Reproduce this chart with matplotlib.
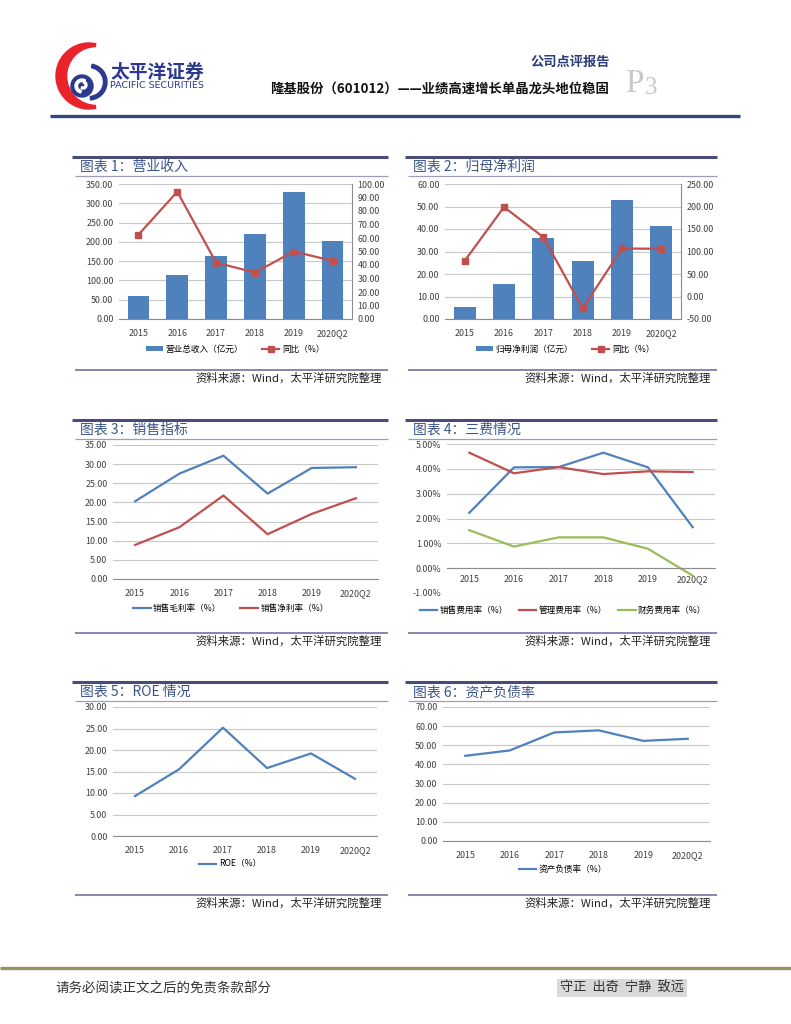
import matplotlib
matplotlib.use("Agg")
import matplotlib.pyplot as plt
from matplotlib.lines import Line2D
from matplotlib.patches import Circle, Wedge
from matplotlib.ticker import FuncFormatter

plt.rcParams["font.family"] = ["Noto Sans CJK SC", "DejaVu Sans"]
plt.rcParams["axes.unicode_minus"] = False

W, H = 791, 1024

years = ["2015", "2016", "2017", "2018", "2019", "2020Q2"]

revenue = [59.8, 114.4, 163.8, 221.0, 329.0, 202.8]
revenue_yoy = [62.4, 94.3, 41.8, 34.4, 50.0, 43.1]

net_profit = [5.35, 15.6, 36.0, 25.9, 52.9, 41.3]
net_profit_yoy = [79.2, 198.7, 132.0, -26.2, 106.7, 106.0]

gross_margin = [20.3, 27.5, 32.2, 22.3, 29.0, 29.2]
net_margin = [8.9, 13.5, 21.8, 11.7, 17.0, 21.1]

selling_rate = [2.23, 4.06, 4.07, 4.65, 4.06, 1.65]
admin_rate = [4.65, 3.82, 4.07, 3.79, 3.90, 3.87]
finance_rate = [1.53, 0.87, 1.24, 1.24, 0.78, -0.30]

roe = [9.28, 15.5, 25.2, 15.8, 19.2, 13.3]
debt_ratio = [44.5, 47.3, 56.7, 57.8, 52.3, 53.4]

BLUE = "#4F81BD"
RED = "#C0504D"
GREEN = "#9BBB59"
GRID = "#C8C8C8"
TICK = "#404040"
TITLE = "#3B5488"
TS = 6.4  # tick label size

fig = plt.figure(figsize=(W / 100, H / 100), dpi=100)


def box(x0, y0, x1, y1):
    return [x0 / W, 1 - y1 / H, (x1 - x0) / W, (y1 - y0) / H]


def ftext(x, y, s, **kw):
    kw.setdefault("va", "center")
    return fig.text(x / W, 1 - y / H, s, **kw)


def hline(x0, x1, y, color, lw):
    fig.add_artist(Line2D([x0 / W, x1 / W], [1 - y / H, 1 - y / H],
                          color=color, lw=lw, solid_capstyle="butt"))


def fmt2(v, pos):
    return f"{v:.2f}"


def style_axes(ax, ymin, ymax, step):
    ax.set_xlim(-0.5, len(years) - 0.5)
    ax.set_ylim(ymin, ymax)
    ticks = []
    v = ymin
    while v <= ymax + 1e-9:
        ticks.append(v)
        v += step
    ax.set_yticks(ticks)
    ax.yaxis.set_major_formatter(FuncFormatter(fmt2))
    ax.set_xticks(range(len(years)))
    ax.set_xticklabels(years)
    ax.grid(axis="y", color=GRID, lw=0.8)
    ax.set_axisbelow(True)
    for s in ["top", "left", "right"]:
        ax.spines[s].set_visible(False)
    ax.spines["bottom"].set_color("#8C8C8C")
    ax.tick_params(axis="both", length=0, labelsize=TS, colors=TICK, pad=4)
    ax.tick_params(axis="x", pad=7)
    ax.set_facecolor("none")


def right_axis(ax, ymin, ymax, step):
    r = ax.twinx()
    r.set_ylim(ymin, ymax)
    r.set_yticks(range(ymin, ymax + 1, step))
    r.yaxis.set_major_formatter(FuncFormatter(fmt2))
    r.tick_params(length=0, labelsize=TS, colors=TICK, pad=4)
    for s in ["top", "left", "bottom"]:
        r.spines[s].set_visible(False)
    r.spines["right"].set_color("#8C8C8C")
    return r


def panel(x0, x1, top, title):
    hline(x0, x1, top, "#4B4B7B", 2.2)
    ftext(x0 + 8, top + 10, title, fontsize=10, color=TITLE)
    hline(x0 + 3, x1, top + 19, "#9C9CC0", 0.9)
    hline(x0 + 3, x1, top + 213, "#7C7CA8", 1.3)
    ftext(x1 - 6, top + 221, "资料来源：Wind，太平洋研究院整理",
          fontsize=8.2, color="#222222", ha="right")


def add_legend(ax, handles, labels, cx, cy, ncol, colsp=1.8):
    ax.legend(handles, labels, loc="center", bbox_to_anchor=(cx / W, 1 - cy / H),
              bbox_transform=fig.transFigure, ncol=ncol, frameon=False,
              fontsize=6.2, handlelength=2.0, columnspacing=colsp, handletextpad=0.3,
              handleheight=0.6)


# ---------- header ----------
logo = fig.add_axes(box(50, 38, 120, 114))
logo.set_xlim(50, 120)
logo.set_ylim(114, 38)
logo.set_aspect("equal")
logo.axis("off")
logo.add_patch(Wedge((89, 76), 33, 78, 282, color="#E8232A"))
logo.add_patch(Circle((96, 76), 28, color="white"))
logo.add_patch(Wedge((89, 82), 18, -80, 85, width=3.5, color="#2B3990"))
logo.add_patch(Circle((82, 86), 11, color="#2B3990"))
logo.add_patch(Wedge((82, 86), 7, 100, 300, width=2.5, color="white"))
logo.add_patch(Wedge((83, 85), 4, -80, 120, width=2, color="white"))

ftext(110, 72, "太平洋证券", fontsize=13.5, fontweight="bold", color="#2B3990")
ftext(110, 85, "PACIFIC SECURITIES", fontsize=6.8, color="#2B3990", family="DejaVu Sans")
ftext(610, 62, "公司点评报告", fontsize=9.5, fontweight="bold", color="#2B3D7A", ha="right")
ftext(609, 89, "隆基股份（601012）——业绩高速增长单晶龙头地位稳固",
      fontsize=9.6, fontweight="bold", color="#111111", ha="right")
ftext(625, 84, "P", fontsize=24, color="#C8C8C8", family="Liberation Serif")
ftext(645, 88, "3", fontsize=18, color="#C8C8C8", family="Liberation Serif")
hline(50, 740, 116, "#2F4A7A", 2.4)

# ---------- panels ----------
panel(72, 388, 157, "图表 1：营业收入")
panel(405, 717, 157, "图表 2：归母净利润")
panel(72, 388, 420, "图表 3：销售指标")
panel(405, 717, 420, "图表 4：三费情况")
panel(72, 388, 682, "图表 5：ROE 情况")
panel(405, 717, 682, "图表 6：资产负债率")

x = list(range(len(years)))

# chart 1
ax1 = fig.add_axes(box(119, 184, 352, 319))
style_axes(ax1, 0, 350, 50)
b1 = ax1.bar(x, revenue, width=0.56, color=BLUE)
ax1r = right_axis(ax1, 0, 100, 10)
l1, = ax1r.plot(x, revenue_yoy, color=RED, lw=1.6, marker="s", ms=4.5)
add_legend(ax1r, [b1, l1], ["营业总收入（亿元）", "同比（%）"], 235, 349, 2, colsp=2.2)

# chart 2
ax2 = fig.add_axes(box(445, 184, 681, 319))
style_axes(ax2, 0, 60, 10)
b2 = ax2.bar(x, net_profit, width=0.56, color=BLUE)
ax2r = right_axis(ax2, -50, 250, 50)
l2, = ax2r.plot(x, net_profit_yoy, color=RED, lw=1.6, marker="s", ms=4.5)
add_legend(ax2r, [b2, l2], ["归母净利润（亿元）", "同比（%）"], 565, 349, 2, colsp=2.2)

# chart 3
ax3 = fig.add_axes(box(113, 445, 378, 579))
style_axes(ax3, 0, 35, 5)
l3a, = ax3.plot(x, gross_margin, color=BLUE, lw=1.6)
l3b, = ax3.plot(x, net_margin, color=RED, lw=1.6)
add_legend(ax3, [l3a, l3b], ["销售毛利率（%）", "销售净利率（%）"], 231, 608, 2, colsp=2.2)

# chart 4
ax4 = fig.add_axes(box(447, 444, 715, 593))
style_axes(ax4, -1, 5, 1)
ax4.yaxis.set_major_formatter(FuncFormatter(lambda v, p: f"{v:.2f}%"))
ax4.spines["bottom"].set_position(("data", 0))
ax4.tick_params(axis="x", pad=5)
l4a, = ax4.plot(x, selling_rate, color=BLUE, lw=1.6)
l4b, = ax4.plot(x, admin_rate, color=RED, lw=1.6)
l4c, = ax4.plot(x, finance_rate, color=GREEN, lw=1.6)
add_legend(ax4, [l4a, l4b, l4c], ["销售费用率（%）", "管理费用率（%）", "财务费用率（%）"],
           563, 610, 3, colsp=1.3)

# chart 5
ax5 = fig.add_axes(box(113, 707, 377, 836))
style_axes(ax5, 0, 30, 5)
l5, = ax5.plot(x, roe, color=BLUE, lw=1.6)
add_legend(ax5, [l5], ["ROE（%）"], 230, 864, 1)

# chart 6
ax6 = fig.add_axes(box(443, 707, 710, 841))
style_axes(ax6, 0, 70, 10)
l6, = ax6.plot(x, debt_ratio, color=BLUE, lw=1.6)
add_legend(ax6, [l6], ["资产负债率（%）"], 563, 869, 1)

# ---------- footer ----------
hline(0, 791, 968, "#9B9264", 2.4)
ftext(55, 988, "请务必阅读正文之后的免责条款部分", fontsize=9.7, color="#333333")
ftext(560, 988, "守正  出奇  宁静  致远", fontsize=9.5, color="#333333",
      bbox=dict(facecolor="#D9D9D9", edgecolor="none", pad=2))

fig.savefig("out.png", dpi=100)
